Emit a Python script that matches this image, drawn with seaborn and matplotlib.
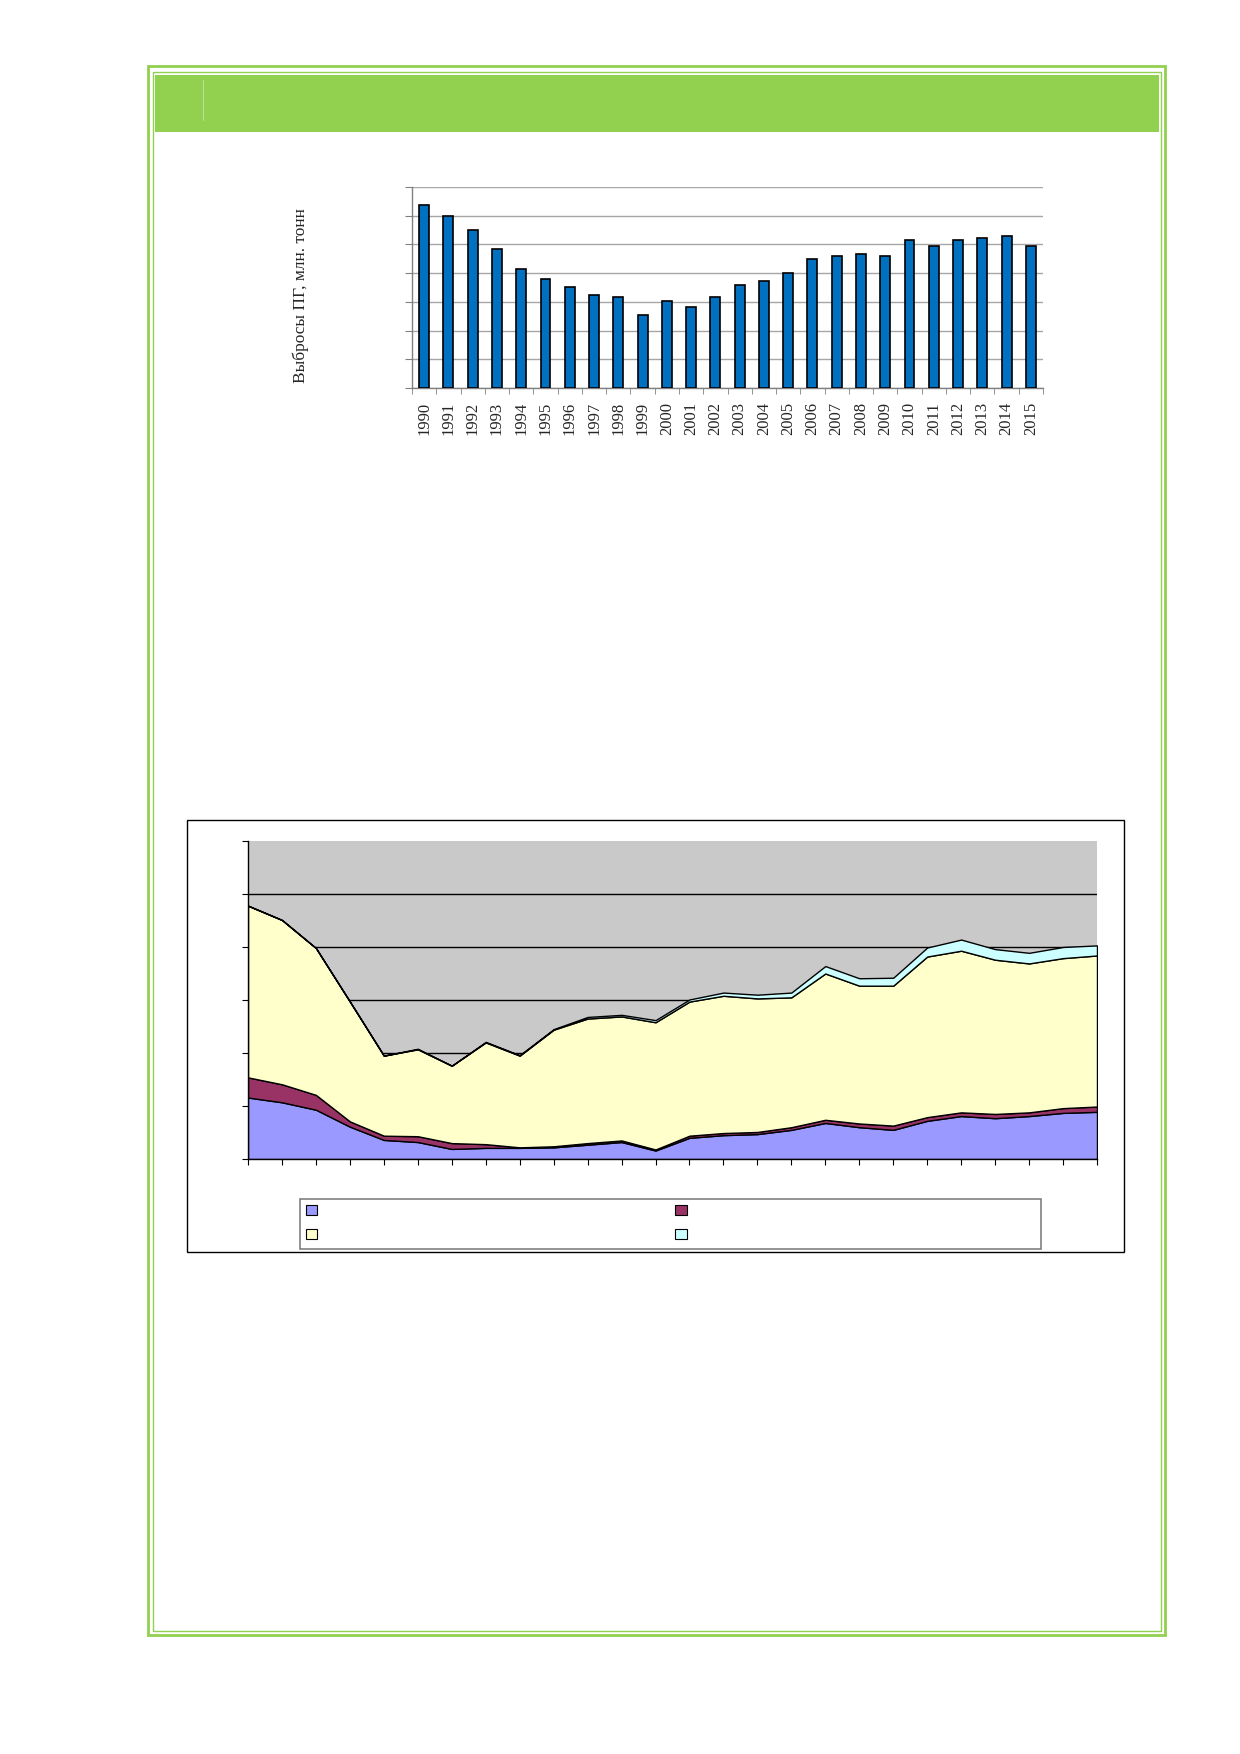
import matplotlib
matplotlib.use("Agg")
import matplotlib.pyplot as plt
import seaborn as sns
import numpy as np
import pandas as pd
from matplotlib.patches import Rectangle, Patch
from matplotlib.lines import Line2D

# ---------------- data ----------------
years = list(range(1990, 2016))
year_labels = [str(y) for y in years]

# bar chart: GHG emissions (in gridline units, axis has no value labels)
bar_values = [6.36, 5.99, 5.49, 4.84, 4.13, 3.81, 3.52, 3.24, 3.16, 2.53,
              3.04, 2.81, 3.18, 3.58, 3.73, 4.00, 4.48, 4.60, 4.67, 4.58,
              5.15, 4.96, 5.15, 5.23, 5.28, 4.94]

# stacked area chart components (gridline units)
series_blue = [1.16, 1.07, 0.93, 0.61, 0.36, 0.32, 0.19, 0.21, 0.21, 0.22,
               0.27, 0.32, 0.16, 0.40, 0.45, 0.47, 0.55, 0.68, 0.60, 0.55,
               0.72, 0.81, 0.77, 0.81, 0.87, 0.89]
series_maroon = [0.38, 0.34, 0.28, 0.10, 0.08, 0.11, 0.11, 0.07, 0.01, 0.02,
                 0.03, 0.03, 0.02, 0.04, 0.04, 0.04, 0.05, 0.06, 0.07, 0.08,
                 0.07, 0.07, 0.08, 0.07, 0.09, 0.10]
series_yellow = [3.24, 3.10, 2.77, 2.26, 1.51, 1.64, 1.46, 1.92, 1.73, 2.20,
                 2.35, 2.34, 2.40, 2.53, 2.59, 2.52, 2.45, 2.76, 2.60, 2.64,
                 3.03, 3.05, 2.91, 2.81, 2.83, 2.85]
series_cyan = [0.00, 0.00, 0.00, 0.00, 0.00, 0.01, 0.00, 0.01, 0.01, 0.01,
               0.03, 0.03, 0.04, 0.04, 0.06, 0.07, 0.09, 0.14, 0.14, 0.15,
               0.17, 0.21, 0.20, 0.20, 0.21, 0.19]

area_colors = ["#9999FF", "#993366", "#FFFFCC", "#CCFFFF"]
ylabel_text = "Выбросы ПГ, млн. тонн"

# ---------------- style ----------------
sns.set_style("white")
plt.rcParams["font.family"] = ["Liberation Serif", "DejaVu Serif"]

W, H = 1240, 1754
fig = plt.figure(figsize=(W / 100, H / 100), dpi=100)
fig.patch.set_facecolor("white")


def fx(px):
    return px / W


def fy(py):
    return 1 - py / H


def rect(x0, y0, x1, y1, **kw):
    r = Rectangle((fx(x0), fy(y1)), fx(x1) - fx(x0), fy(y0) - fy(y1),
                  transform=fig.transFigure, **kw)
    fig.add_artist(r)
    return r


# page frame
green = "#92D050"
rect(148, 66, 1165, 1635, fill=False, ec=green, lw=2.0)
rect(153, 72, 1161, 1631, fill=False, ec=green, lw=1.0)
rect(155, 75, 1159, 132, fc=green, ec="none")
fig.add_artist(Line2D([fx(203), fx(203)], [fy(80), fy(120)],
                      transform=fig.transFigure, color="#B9E294", lw=0.8))

# ---------------- bar chart ----------------
axb = fig.add_axes([fx(412), fy(388), fx(1043) - fx(412), (388 - 187) / H])
df_bar = pd.DataFrame({"year": year_labels, "value": bar_values})
sns.barplot(data=df_bar, x="year", y="value", color="#0070C0", saturation=1,
            edgecolor="black", linewidth=1.2, width=0.41, ax=axb, zorder=3)
axb.set_xlim(-0.5, 25.5)
axb.set_ylim(0, 7)
axb.set_yticks(range(8))
axb.set_yticklabels([])
axb.yaxis.grid(True, color="#A6A6A6", lw=1.0, zorder=0)
axb.set_axisbelow(True)
axb.set_xlabel("")
axb.set_ylabel("")
for s in ["top", "right"]:
    axb.spines[s].set_visible(False)
for s in ["left", "bottom"]:
    axb.spines[s].set_color("#808080")
    axb.spines[s].set_linewidth(1.0)
axb.tick_params(axis="y", length=5, direction="out", color="#808080", left=True)
axb.tick_params(axis="x", which="major", length=0, pad=10, labelsize=12,
                labelrotation=90)
axb.set_xticks(np.arange(-0.5, 26, 1.0), minor=True)
axb.tick_params(axis="x", which="minor", length=4, direction="out",
                color="#808080", bottom=True)
for lab in axb.get_xticklabels():
    lab.set_fontfamily(["Liberation Serif", "DejaVu Serif"])

fig.text(fx(301), fy(296), ylabel_text, rotation=90, ha="center", va="center",
         fontsize=12.5, family=["Liberation Serif", "DejaVu Serif"])

# ---------------- stacked area chart ----------------
rect(187, 820, 1124, 1252, fill=False, ec="black", lw=1.0)

axa = fig.add_axes([fx(248), fy(1159), fx(1097) - fx(248), (1159 - 841) / H])
axa.set_facecolor("#C9C9C9")
axa.stackplot(years, series_blue, series_maroon, series_yellow, series_cyan,
              colors=area_colors, edgecolor="black", linewidth=1.0, zorder=2)
for lv in range(1, 6):
    axa.axhline(lv, color="black", lw=1.0, zorder=1)
axa.set_xlim(1990, 2015)
axa.set_ylim(0, 6)
axa.set_yticks(range(7))
axa.set_yticklabels([])
axa.set_xticks(years)
axa.set_xticklabels([])
for s in ["top", "right"]:
    axa.spines[s].set_visible(False)
for s in ["left", "bottom"]:
    axa.spines[s].set_color("black")
    axa.spines[s].set_linewidth(1.0)
    axa.spines[s].set_zorder(5)
axa.tick_params(axis="both", length=4, direction="out", color="black",
                left=True, bottom=True)

# legend box (entries have no text in the reference)
rect(300, 1199, 1041, 1249, fill=False, ec="#808080", lw=1.2)
handles = [Patch(facecolor=area_colors[0], edgecolor="black", lw=0.8),
           Patch(facecolor=area_colors[2], edgecolor="black", lw=0.8),
           Patch(facecolor=area_colors[1], edgecolor="black", lw=0.8),
           Patch(facecolor=area_colors[3], edgecolor="black", lw=0.8)]
axa.legend(handles, ["", "", "", ""], ncol=2, frameon=False, loc="upper left",
           bbox_to_anchor=(fx(306), fy(1205)), bbox_transform=fig.transFigure,
           borderpad=0, borderaxespad=0, handlelength=0.8, handleheight=0.72,
           handletextpad=0, columnspacing=25.8, labelspacing=0.75, fontsize=10)

fig.savefig("out.png", dpi=100)
